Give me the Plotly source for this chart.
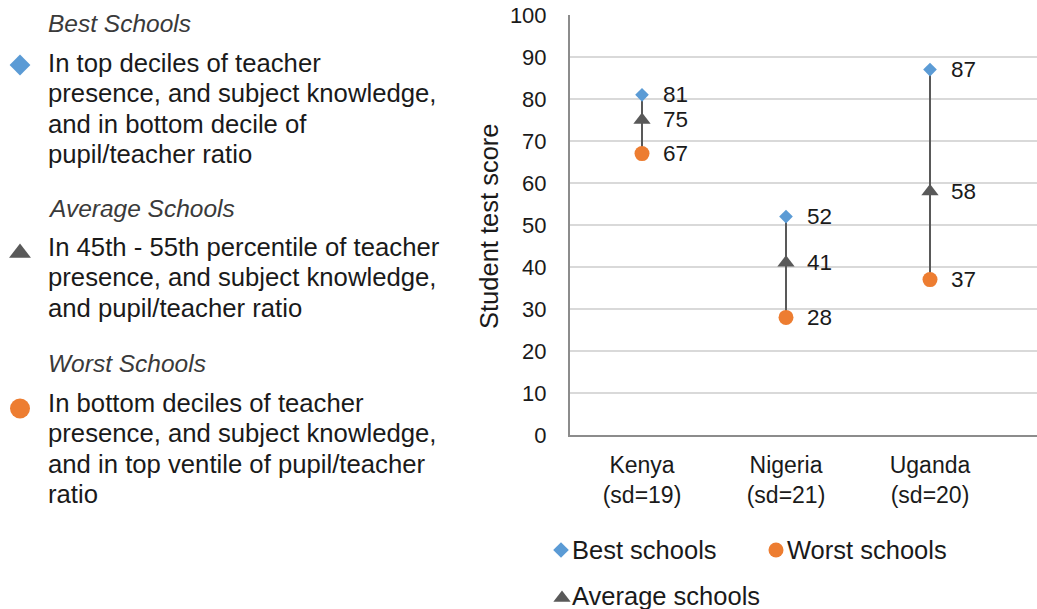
import plotly.graph_objects as go

countries = ["Kenya", "Nigeria", "Uganda"]
sds = [19, 21, 20]
best = [81, 52, 87]
average = [75, 41, 58]
worst = [67, 28, 37]
y_ticks = [0, 10, 20, 30, 40, 50, 60, 70, 80, 90, 100]

BLUE = "#5B9BD5"
ORANGE = "#ED7D31"
GRAY = "#595959"
TXT = "#1a1a1a"
FONT = "Liberation Sans, Arial, sans-serif"

W, H = 1037, 609
xs = list(range(len(countries)))
ticktext = [f"{c}<br>(sd={s})" for c, s in zip(countries, sds)]

fig = go.Figure()

# connector lines worst -> best
lx, ly = [], []
for i in xs:
    lx += [i, i, None]
    ly += [worst[i], best[i], None]
fig.add_trace(go.Scatter(x=lx, y=ly, mode="lines", line=dict(color=GRAY, width=2),
                         hoverinfo="skip", showlegend=False))
fig.add_trace(go.Scatter(x=xs, y=worst, mode="markers", name="Worst schools",
                         marker=dict(symbol="circle", size=15, color=ORANGE), showlegend=False))
fig.add_trace(go.Scatter(x=xs, y=average, mode="markers", name="Average schools",
                         marker=dict(symbol="triangle-up", size=15, color=GRAY), showlegend=False))
fig.add_trace(go.Scatter(x=xs, y=best, mode="markers", name="Best schools",
                         marker=dict(symbol="diamond", size=10.5, color=BLUE), showlegend=False))

annotations = []
for series in (best, average, worst):
    for i, v in zip(xs, series):
        annotations.append(dict(x=i, y=v, xref="x", yref="y", text=str(v), showarrow=False,
                                xanchor="left", yanchor="middle", xshift=19,
                                font=dict(size=22.5, color=TXT, family=FONT)))

# y-axis title
annotations.append(dict(x=489, y=226, xref="x2", yref="y2", text="Student test score",
                        textangle=-90, showarrow=False, xanchor="center", yanchor="middle",
                        font=dict(size=25.5, color=TXT, family=FONT)))

# left descriptive key
groups = [
    ("Best Schools", 23, ["In top deciles of teacher", "presence, and subject knowledge,",
                          "and in bottom decile of", "pupil/teacher ratio"], 63, "diamond", BLUE, 16, 65),
    ("Average Schools", 208, ["In 45th - 55th percentile of teacher", "presence, and subject knowledge,",
                              "and pupil/teacher ratio"], 247, "triangle-up", GRAY, 19, 253),
    ("Worst Schools", 363, ["In bottom deciles of teacher", "presence, and subject knowledge,",
                            "and in top ventile of pupil/teacher", "ratio"], 403, "circle", ORANGE, 20, 408.5),
]
for title, ty, lines, y0, sym, col, msz, my in groups:
    annotations.append(dict(x=46, y=ty, xref="x2", yref="y2", text=f"<i>{title}</i>", showarrow=False,
                            xanchor="left", yanchor="middle",
                            font=dict(size=24.5, color="#3a3a3a", family=FONT)))
    for k, ln in enumerate(lines):
        annotations.append(dict(x=46, y=y0 + k * 30.3, xref="x2", yref="y2", text=ln, showarrow=False,
                                xanchor="left", yanchor="middle",
                                font=dict(size=25.7, color=TXT, family=FONT)))
    fig.add_trace(go.Scatter(x=[20], y=[my], xaxis="x2", yaxis="y2", mode="markers",
                             marker=dict(symbol=sym, size=msz, color=col),
                             hoverinfo="skip", showlegend=False))

# bottom legend
legend_items = [("Best schools", 561, 550, "diamond", BLUE, 12, 570),
                ("Worst schools", 776, 550, "circle", ORANGE, 15, 785),
                ("Average schools", 562, 596, "triangle-up", GRAY, 15, 570)]
for name, mx, my, sym, col, msz, tx in legend_items:
    fig.add_trace(go.Scatter(x=[mx], y=[my + (2 if sym == "triangle-up" else 0)], xaxis="x2", yaxis="y2",
                             mode="markers", marker=dict(symbol=sym, size=msz, color=col),
                             hoverinfo="skip", showlegend=False, cliponaxis=False))
    annotations.append(dict(x=tx, y=my, xref="x2", yref="y2", text=name, showarrow=False,
                            xanchor="left", yanchor="middle",
                            font=dict(size=25.5, color=TXT, family=FONT)))

fig.update_layout(
    width=W, height=H, autosize=False,
    margin=dict(l=0, r=0, t=0, b=0, pad=0, autoexpand=False),
    paper_bgcolor="white", plot_bgcolor="rgba(0,0,0,0)",
    font=dict(family=FONT, color=TXT),
    showlegend=False,
    xaxis=dict(domain=[570 / W, 1], range=[-0.5, -0.5 + 467 / 144], tickmode="array",
               tickvals=xs, ticktext=ticktext, showgrid=False, zeroline=False,
               showline=True, linecolor="#8c8c8c", linewidth=2, ticks="", automargin=False,
               tickfont=dict(size=23, color=TXT, family=FONT), ticklabelstandoff=8, anchor="y"),
    yaxis=dict(domain=[(H - 435) / H, (H - 15) / H], range=[0, 100], tickvals=y_ticks,
               showgrid=True, gridcolor="#d9d9d9", gridwidth=1.5, zeroline=False,
               showline=True, linecolor="#8c8c8c", linewidth=2, ticks="", automargin=False,
               tickfont=dict(size=22, color=TXT, family=FONT), ticklabelstandoff=17, anchor="x"),
    xaxis2=dict(domain=[0, 1], range=[0, W], visible=False, anchor="y2", automargin=False),
    yaxis2=dict(domain=[0, 1], range=[H, 0], visible=False, anchor="x2", automargin=False),
    annotations=annotations,
)

fig.write_html("out.html", config={"displayModeBar": False},
               post_script="document.body.style.margin='0';")
